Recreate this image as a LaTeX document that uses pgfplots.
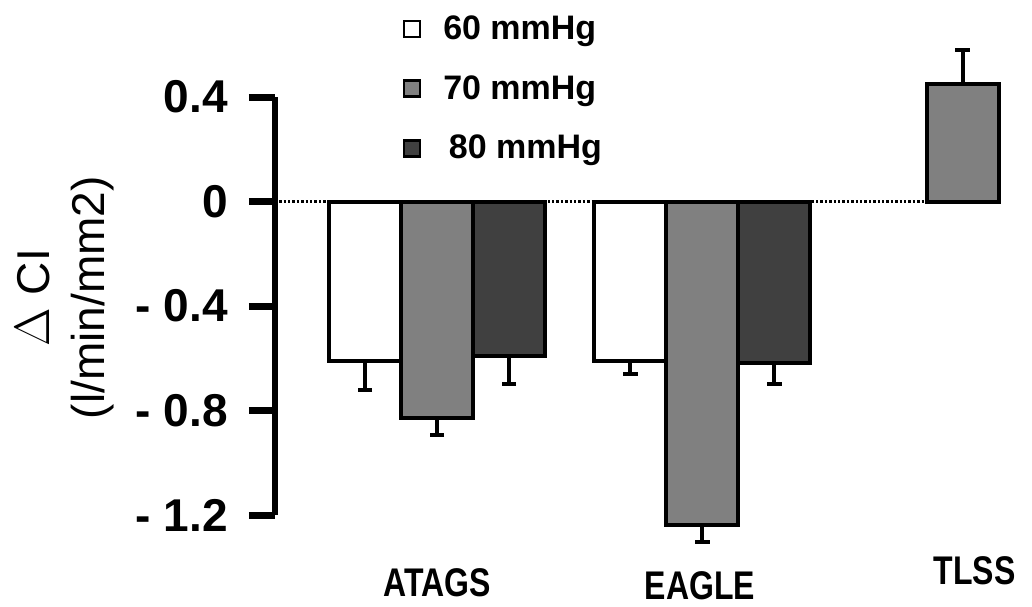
\documentclass[border=0pt]{standalone}
\usepackage{fontspec}
\setmainfont{Liberation Sans}
\usepackage{graphicx}
\usepackage{pgfplots}
\pgfplotsset{compat=1.18}

\definecolor{half70}{gray}{0.5}
\definecolor{half80}{gray}{0.25}

\begin{document}
\begin{tikzpicture}
\useasboundingbox (-137.5pt,-45.5pt) rectangle (378.5pt,257.5pt);
\begin{axis}[
    at={(0,0)}, anchor=south west,
    width=367.5pt, height=209pt, scale only axis,
    xmin=-0.616, xmax=2.18,
    ymin=-1.2, ymax=0.4,
    clip=false,
    axis lines*=left,
    x axis line style={draw=none},
    y axis line style={line width=3pt},
    xtick={0,1,2},
    xticklabels={\scalebox{0.8}[1]{ATAGS},
                 {\raisebox{-1.5pt}{\scalebox{0.8}[1]{EAGLE}}},
                 {\hspace*{12pt}\raisebox{6pt}{\scalebox{0.8}[1]{TLSS}}}},
    x tick style={draw=none},
    x tick label style={font=\fontsize{20}{22}\selectfont\bfseries, anchor=base, yshift=-27.5pt},
    ytick={-1.2,-0.8,-0.4,0,0.4},
    yticklabels={- 1.2,- 0.8,- 0.4,0,0.4},
    y tick style={line width=3.5pt, black},
    tick align=outside,
    major tick length=13pt,
    y tick label style={font=\fontsize{23}{26}\selectfont\bfseries, xshift=-7pt},
    ylabel={$\Delta$ CI\\(l/min/mm2)},
    ylabel style={at={(axis description cs:-0.286,0.52)}, anchor=center, align=center,
        font=\fontsize{23}{27.5}\selectfont},
    error bars/y explicit,
    error bars/error bar style={line width=2pt, black},
    error bars/error mark options={rotate=90, mark size=3.6pt, line width=2pt, black},
    every axis plot/.append style={ybar, bar width=36pt, bar shift=0pt, draw=black, line width=2pt},
    legend style={at={(axis description cs:0.165,1.215)}, anchor=north west,
        draw=none, fill=none, font=\fontsize{17}{20}\selectfont\bfseries,
        row sep=12.5pt, column sep=9pt, cells={anchor=west}},
]
% zero line
\addplot[forget plot, sharp plot, black, line width=1.2pt, densely dotted] coordinates {(-0.60,0) (2,0)};

% 60 mmHg (left bar of each group)
\addplot[forget plot, fill=white, error bars/y dir=minus]
    coordinates {(-0.274,-0.61) -= (0,0.11)
                 (0.736,-0.61) -= (0,0.05)};
% 70 mmHg (middle bar)
\addplot[forget plot, fill=half70, error bars/y dir=minus]
    coordinates {(0,-0.83) -= (0,0.065)
                 (1.01,-1.24) -= (0,0.065)};
\addplot[forget plot, fill=half70, error bars/y dir=plus]
    coordinates {(2,0.45) += (0,0.13)};
% 80 mmHg (right bar)
\addplot[forget plot, fill=half80, error bars/y dir=minus]
    coordinates {(0.274,-0.59) -= (0,0.11)
                 (1.284,-0.62) -= (0,0.08)};

\addlegendimage{legend image code/.code={\draw[black, line width=1.3pt, fill=white] (0pt,-4pt) rectangle (8pt,4pt);}}
\addlegendentry{60 mmHg}
\addlegendimage{legend image code/.code={\draw[black, line width=1.3pt, fill=half70] (0pt,-4pt) rectangle (8pt,4pt);}}
\addlegendentry{70 mmHg}
\addlegendimage{legend image code/.code={\draw[black, line width=1.3pt, fill=half80] (0pt,-4pt) rectangle (8pt,4pt);}}
\addlegendentry{\,80 mmHg}
\end{axis}
\end{tikzpicture}
\end{document}
